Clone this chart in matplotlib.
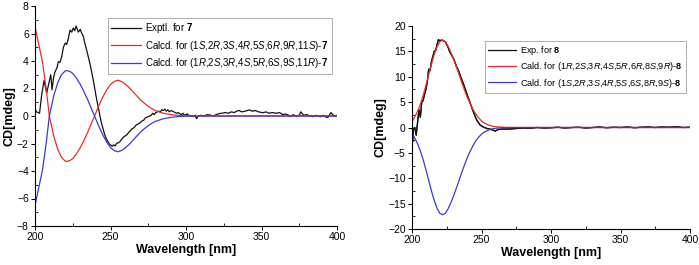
import matplotlib
matplotlib.use("Agg")
import matplotlib.pyplot as plt
from matplotlib.ticker import MultipleLocator
import numpy as np

plt.rcParams['font.family'] = ['Liberation Sans', 'DejaVu Sans']
plt.rcParams['mathtext.fontset'] = 'custom'
plt.rcParams['mathtext.rm'] = 'Liberation Sans'
plt.rcParams['mathtext.it'] = 'Liberation Sans:italic'
plt.rcParams['mathtext.bf'] = 'Liberation Sans:bold'

# ---------------- Left panel data (compound 7) ----------------
wl7_calc = [200, 202.5, 205, 207.5, 209.5, 212.5, 215, 217.5, 220, 221, 223, 225, 227.5, 230,
            232.5, 235, 237.5, 240, 242.5, 245, 247.5, 250, 252.5, 255, 257.5, 260, 262.5,
            265, 267.5, 270, 272.5, 275, 277.5, 280, 285, 290, 295, 300, 305, 400]
red7 = [6.5, 5.2, 3.9, 1.9, 0.0, -1.5, -2.4, -3.0, -3.28, -3.3, -3.25, -3.1, -2.75, -2.3,
        -1.75, -1.15, -0.5, 0.15, 0.8, 1.4, 1.9, 2.3, 2.52, 2.6, 2.5, 2.3, 2.05,
        1.75, 1.45, 1.15, 0.92, 0.7, 0.52, 0.38, 0.2, 0.1, 0.04, 0.01, 0.0, 0.0]
blue7 = [-6.5, -5.2, -3.9, -1.9, 0.0, 1.5, 2.4, 3.0, 3.28, 3.3, 3.25, 3.1, 2.75, 2.3,
         1.75, 1.15, 0.5, -0.15, -0.8, -1.4, -1.9, -2.3, -2.52, -2.6, -2.5, -2.3, -2.05,
         -1.75, -1.45, -1.15, -0.92, -0.7, -0.52, -0.38, -0.2, -0.1, -0.04, -0.01, 0.0, 0.0]

wl7_exp = [200, 201, 203, 204.5, 206, 207.7, 209, 210.4, 211.3, 212.3, 213.2, 214.5, 215.5, 216.5,
           217.7, 218.8, 220, 221, 222, 223.2, 224.3, 225.4, 226.3, 227.2, 228, 228.7, 230,
           231, 232, 233, 234.2, 235.3, 236.4, 237.5, 238.6, 239.7, 240.9, 242, 243, 244,
           245, 246, 247, 248, 249, 250, 251, 252, 253, 254, 255, 256, 257, 258, 259, 260.7,
           262, 263, 264, 265, 266, 267, 268, 269.5, 271, 272, 273, 274, 276, 277, 278, 279,
           280, 281, 282, 283, 284, 285, 286, 287, 288, 289, 290, 291, 292, 293.8, 295, 296,
           297, 298, 299, 300, 301, 302, 303, 305, 306, 307, 308, 310, 312, 314, 316, 318,
           320, 322.5, 324, 326, 328, 330, 332, 333.6, 335, 337, 339, 342, 344, 346, 348,
           351, 353, 355, 357, 360, 362, 364, 366, 368, 369, 371, 373, 375, 376, 378, 380,
           382, 384, 386, 387, 389, 391, 393, 394, 396, 398, 400]
black7 = [0.5, 0.3, 0.2, 1.6, 2.6, 1.65, 2.3, 3.0, 1.9, 2.8, 3.2, 3.5, 3.95, 3.9,
          4.3, 5.0, 5.3, 5.2, 5.6, 6.25, 6.1, 6.4, 6.2, 6.55, 6.3, 6.1, 6.3,
          6.0, 5.8, 5.3, 4.8, 4.3, 3.8, 3.2, 2.6, 1.9, 1.16, 0.6, 0.0, -0.5,
          -0.9, -1.3, -1.6, -1.8, -2.0, -2.1, -2.2, -2.1, -2.18, -2.0, -1.95, -1.9, -1.75, -1.6, -1.5, -1.38,
          -1.2, -1.1, -0.95, -0.9, -0.8, -0.65, -0.6, -0.5, -0.35, -0.3, -0.15, -0.1, 0.0, 0.05, 0.2, 0.1,
          0.25, 0.3, 0.35, 0.3, 0.45, 0.4, 0.5, 0.35, 0.45, 0.3, 0.4, 0.35, 0.3, 0.2, 0.25, 0.15,
          0.1, 0.2, 0.05, 0.1, 0.15, 0.0, 0.05, -0.05, 0.05, -0.2, 0.0, 0.05, 0.0, 0.1, 0.07, 0.0,
          0.1, 0.19, 0.2, 0.25, 0.2, 0.3, 0.25, 0.36, 0.4, 0.3, 0.35, 0.44, 0.35, 0.4, 0.3,
          0.24, 0.3, 0.2, 0.25, 0.2, 0.25, 0.1, 0.15, 0.05, -0.05, 0.1, 0.0, 0.05, 0.3, 0.05, 0.1,
          0.0, -0.05, 0.05, 0.0, -0.05, 0.05, -0.1, -0.1, 0.25, 0.0, 0.05]

# ---------------- Right panel data (compound 8) ----------------
wl8_calc = [200, 202, 204, 206, 208, 210, 212, 214, 216, 218, 220, 222, 224, 226, 228, 230,
            232, 234, 236, 238, 240, 242, 244, 246, 248, 250, 252, 255, 258, 262, 268, 275, 400]
red8 = [1.1, 2.1, 3.2, 4.6, 6.3, 8.3, 10.4, 12.5, 14.4, 15.9, 16.9, 17.2, 16.9, 16.0, 14.8, 13.4,
        11.9, 10.3, 8.7, 7.2, 5.8, 4.6, 3.5, 2.6, 1.9, 1.3, 0.9, 0.5, 0.25, 0.1, 0.03, 0.0, 0.0]
blue8 = [-1.1, -2.1, -3.2, -4.6, -6.3, -8.3, -10.4, -12.5, -14.4, -15.9, -16.9, -17.2, -16.9, -16.0,
         -14.8, -13.4, -11.9, -10.3, -8.7, -7.2, -5.8, -4.6, -3.5, -2.6, -1.9, -1.3, -0.9, -0.5,
         -0.25, -0.1, -0.03, 0.0, 0.0]

wl8_exp = [200, 200.5, 201, 202, 203, 204, 205, 206, 207, 208, 209, 210, 211, 212, 213, 214, 215,
           216, 217, 218, 219, 220, 221, 222, 223, 224, 225, 226, 227, 228, 229, 230, 231, 232,
           233, 234, 235, 236, 237, 238, 239, 240, 241, 242, 243, 244, 245, 246, 247, 248, 249,
           250, 252, 254, 256, 258, 260, 262, 265, 270, 275, 280, 285, 290, 295, 300, 305, 310,
           315, 320, 325, 330, 335, 340, 345, 350, 355, 360, 365, 370, 375, 380, 385, 390, 395, 400]
black8 = [-0.5, -2.8, -0.2, 0.0, -1.5, 1.0, 3.5, 2.0, 5.0, 5.3, 6.5, 7.5, 9.0, 11.5, 11.2, 13.0, 14.0,
          15.0, 15.2, 16.3, 17.3, 17.1, 17.2, 17.2, 17.0, 16.9, 16.3, 15.8, 15.0, 14.5, 14.0, 13.5, 12.8, 12.0,
          11.5, 10.8, 10.0, 9.3, 8.6, 7.8, 7.0, 6.2, 5.5, 4.7, 3.9, 3.2, 2.5, 1.8, 1.3, 0.9, 0.5,
          0.3, 0.0, -0.2, -0.3, -0.5, -0.7, -0.4, -0.3, -0.3, -0.2, -0.1, -0.15, 0.0, -0.1, -0.05, 0.05, -0.1,
          0.0, 0.05, -0.1, 0.0, 0.1, -0.05, 0.05, 0.0, 0.1, -0.05, 0.05, 0.1, 0.0, 0.1, 0.05, 0.15, 0.0, 0.05]

RED = '#ee2a2a'
BLUE = '#3a3ad6'
BLACK = '#111111'

fig = plt.figure(figsize=(6.99, 2.65), dpi=100)
axL = fig.add_axes([35/699, 1-226/265, 302/699, 220/265])
axR = fig.add_axes([412/699, 1-229/265, 278/699, 203/265])

lw = 0.9
axL.plot(wl7_exp, black7, color=BLACK, lw=lw, label=r'Exptl. for $\mathbf{7}$')
axL.plot(wl7_calc, red7, color=RED, lw=lw,
         label=r'Calcd. for (1$\mathit{S}$,2$\mathit{R}$,3$\mathit{S}$,4$\mathit{R}$,5$\mathit{S}$,6$\mathit{R}$,9$\mathit{R}$,11$\mathit{S}$)-$\mathbf{7}$')
axL.plot(wl7_calc, blue7, color=BLUE, lw=lw,
         label=r'Calcd. for (1$\mathit{R}$,2$\mathit{S}$,3$\mathit{R}$,4$\mathit{S}$,5$\mathit{R}$,6$\mathit{S}$,9$\mathit{S}$,11$\mathit{R}$)-$\mathbf{7}$')

axR.plot(wl8_exp, black8, color=BLACK, lw=lw, label=r'Exp. for $\mathbf{8}$')
axR.plot(wl8_calc, red8, color=RED, lw=lw,
         label=r'Cald. for (1$\mathit{R}$,2$\mathit{S}$,3$\mathit{R}$,4$\mathit{S}$,5$\mathit{R}$,6$\mathit{R}$,8$\mathit{S}$,9$\mathit{R}$)-$\mathbf{8}$')
axR.plot(wl8_calc, blue8, color=BLUE, lw=lw,
         label=r'Cald. for (1$\mathit{S}$,2$\mathit{R}$,3$\mathit{S}$,4$\mathit{R}$,5$\mathit{S}$,6$\mathit{S}$,8$\mathit{R}$,9$\mathit{S}$)-$\mathbf{8}$')
# redraw black on top of red in right panel
axR.plot(wl8_exp, black8, color=BLACK, lw=lw, zorder=1.5)

axL.set_xlim(200, 400)
axL.set_ylim(-8, 8)
axL.xaxis.set_major_locator(MultipleLocator(50))
axL.xaxis.set_minor_locator(MultipleLocator(25))
axL.yaxis.set_major_locator(MultipleLocator(2))
axL.yaxis.set_minor_locator(MultipleLocator(1))

axR.set_xlim(200, 400)
axR.set_ylim(-20, 20)
axR.xaxis.set_major_locator(MultipleLocator(50))
axR.xaxis.set_minor_locator(MultipleLocator(25))
axR.yaxis.set_major_locator(MultipleLocator(5))
axR.yaxis.set_minor_locator(MultipleLocator(2.5))

for ax in (axL, axR):
    ax.spines['top'].set_visible(False)
    ax.spines['right'].set_visible(False)
    ax.spines['left'].set_linewidth(0.8)
    ax.spines['bottom'].set_linewidth(0.8)
    ax.tick_params(which='major', direction='out', length=3, width=0.7, labelsize=7.5, pad=1.5)
    ax.tick_params(which='minor', direction='in', length=2, width=0.6)
    ax.set_xlabel('Wavelength [nm]', fontsize=9, fontweight='bold', labelpad=1)
    ax.set_ylabel('CD[mdeg]', fontsize=9, fontweight='bold', labelpad=1)

legL = axL.legend(loc='upper left', bbox_to_anchor=((108-35)/302, (226-18)/220),
                  fontsize=7, frameon=True, fancybox=False, handlelength=3.0,
                  handletextpad=0.5, borderpad=0.35, labelspacing=0.35, borderaxespad=0)
legL.get_frame().set_edgecolor('#999999')
legL.get_frame().set_linewidth(0.7)

legR = axR.legend(loc='upper left', bbox_to_anchor=((485-412)/278, (229-41)/203),
                  fontsize=6.6, frameon=True, fancybox=False, handlelength=3.0,
                  handletextpad=0.5, borderpad=0.35, labelspacing=0.35, borderaxespad=0)
legR.get_frame().set_edgecolor('#999999')
legR.get_frame().set_linewidth(0.7)

fig.savefig('out.png', dpi=100)
